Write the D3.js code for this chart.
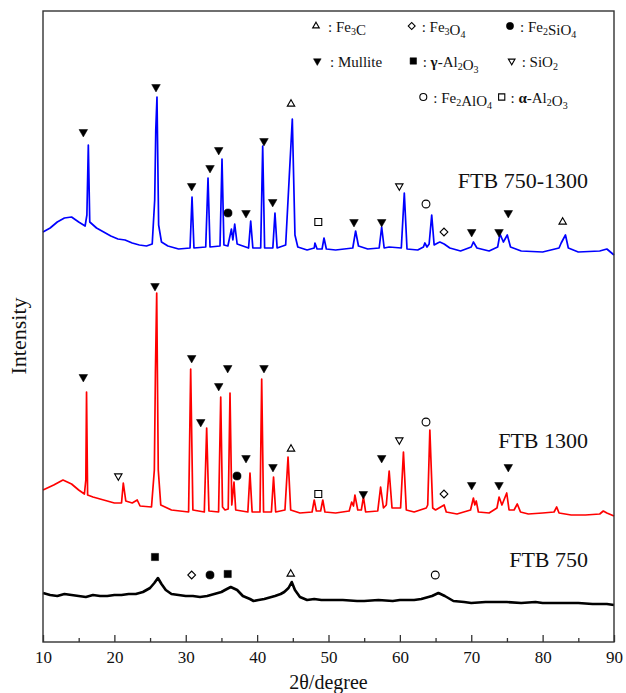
<!DOCTYPE html>
<html><head><meta charset="utf-8">
<script src="https://cdn.jsdelivr.net/npm/d3@7"></script>
<style>
body{margin:0;background:#fff}
svg{display:block}
text{font-family:"Liberation Serif","Times New Roman",serif;fill:#111}
</style>
</head><body>
<svg id="chart" width="626" height="693"></svg>
<script>
// ---------------- DATA ----------------
const xTicks = [10, 20, 30, 40, 50, 60, 70, 80, 90];
const xMinorTicks = [15, 25, 35, 45, 55, 65, 75, 85];
const seriesNames = ["FTB 750", "FTB 1300", "FTB 750-1300"];
const baselineOffsets = [40, 125, 390]; // stacking offset (a.u.)

// [2θ, intensity a.u.]
const ftb750 = [[10,9],[11,7],[12,6],[13,8],[14,7],[15,6],[16,5],[17,7],[18,6],[19,6],[20,7],[21,7],[22,8],[23,8],[24,10],[25,14],[25.6,19],[26.1,24],[26.6,18],[27.2,12],[28,8],[29,7],[30,6],[31,6],[32,5],[33,6],[34,8],[35,10],[35.5,12],[36.3,15],[37.2,12],[38,6],[39,3],[39.5,1],[40.2,2],[41,3],[42,5],[42.5,6],[43.3,8],[43.8,10],[44.4,14],[44.85,20],[45.3,12],[46,5],[47,2],[48,3],[49,2],[50,2],[52,2],[54,1],[55,1],[57,2],[59,1],[60,2],[62,2],[63,3],[64.5,6],[65.4,9],[66.3,6],[67.5,1],[69,0],[70,-1],[72,0],[74,0],[75,0],[77,-1],[79,0],[80,-1],[82,-1],[84,-1],[85,-1],[87,-2],[89,-2],[90,-3]];

const ftb1300 = [[10,27],[11.5,32],[12.8,37],[14,33],[15,27],[15.8,23],[16.0,37],[16.1,125],[16.25,22],[17,20],[18.5,17],[20,14],[21.0,14],[21.25,34],[21.6,16],[22.5,14],[23.2,17],[23.6,11],[25.2,10],[25.6,47],[25.75,144],[25.93,224],[26.15,47],[26.5,12],[28,7],[30.4,5],[30.69,148],[31.0,7],[32.6,5],[32.93,89],[33.25,6],[34.6,5],[34.9,120],[35.15,10],[35.5,7],[35.95,8],[36.2,124],[36.45,12],[36.76,35],[37.0,7],[38.7,5],[39.0,44],[39.3,5],[40.4,5],[40.64,138],[40.9,5],[42.0,5],[42.3,40],[42.6,5],[43.9,7],[44.33,60],[44.7,7],[46,4],[47.7,5],[48.0,17],[48.3,6],[48.9,6],[49.2,17],[49.5,5],[51,4],[52.9,6],[53.25,15],[53.5,11],[53.7,22],[54.1,7],[54.6,7],[54.9,20],[55.2,5],[56.9,6],[57.3,30],[57.7,9],[58.1,12],[58.5,46],[58.9,9],[60.1,9],[60.5,65],[60.9,7],[62,5],[63.7,9],[63.9,12],[64.2,87],[64.6,9],[65.0,7],[66.2,12],[66.5,5],[68,3],[69.9,7],[70.3,19],[70.5,12],[70.7,16],[71.0,5],[72.5,4],[73.6,9],[73.9,20],[74.3,12],[74.97,24],[75.3,7],[76.0,7],[76.45,13],[76.9,5],[78,3],[80,4],[81.6,5],[81.97,10],[82.3,4],[84,2],[86,2],[88,3],[88.5,6],[89,4],[90,1]];

const ftb7501300 = [[10,20],[11,24],[12,30],[13,34],[14,35],[15,30],[15.9,26],[16.15,37],[16.35,107],[16.55,30],[17.5,24],[18.5,20],[19.5,16],[20.5,13],[21.5,12],[22.5,9],[23.5,7],[24.5,6],[25.3,8],[25.65,52],[25.8,122],[25.97,155],[26.2,27],[26.6,10],[27.5,6],[29,3],[30.6,4],[30.88,55],[31.15,4],[32.8,5],[33.12,74],[33.4,5],[34.8,6],[35.08,93],[35.35,7],[35.9,6],[36.4,23],[36.6,12],[36.86,28],[37.2,8],[38.8,4],[39.1,31],[39.4,4],[40.5,4],[40.78,106],[41.05,4],[42.2,4],[42.5,39],[42.8,4],[44.0,7],[44.5,75],[44.93,133],[45.3,17],[45.7,5],[47,2],[48.0,4],[48.1,9],[48.4,3],[49.1,3],[49.37,14],[49.7,3],[51,2],[53.4,4],[53.8,21],[54.2,6],[55.5,3],[57.1,4],[57.45,25],[57.8,4],[58.5,5],[60.2,4],[60.62,59],[61.0,3],[62.5,2],[63.3,5],[63.5,9],[63.8,5],[64.1,8],[64.46,37],[64.8,7],[65.3,9],[65.6,10],[66.2,8],[67.0,4],[68.5,1],[70.0,5],[70.3,10],[70.8,4],[72.5,1],[73.7,5],[74.03,18],[74.5,10],[75.05,17],[75.5,5],[77,1],[80,0],[82.3,4],[82.6,9],[83.2,17],[83.6,4],[85,0],[88,1],[89,3],[90,-3]];

// phase markers: [2θ, intensity a.u., phase]
const markers750 = [[25.69,45,"gAl2O3"],[30.83,27,"Fe3O4"],[33.4,27,"Fe2SiO4"],[35.88,28,"gAl2O3"],[44.71,28,"Fe3C"],[64.96,27,"Fe2AlO4"]];
const markers1300 = [[15.65,140,"Mullite"],[20.55,41,"SiO2"],[25.69,231,"Mullite"],[30.83,159,"Mullite"],[32.1,95,"Mullite"],[34.62,131,"Mullite"],[35.88,149,"Mullite"],[37.18,41,"Fe2SiO4"],[38.44,59,"Mullite"],[40.96,149,"Mullite"],[42.22,50,"Mullite"],[44.75,68,"Fe3C"],[48.57,23,"aAl2O3"],[54.88,23,"Mullite"],[57.45,59,"Mullite"],[59.92,77,"SiO2"],[63.66,95,"Fe2AlO4"],[66.18,23,"Fe3O4"],[70.06,32,"Mullite"],[73.89,32,"Mullite"],[75.19,50,"Mullite"]];
const markers7501300 = [[15.65,120,"Mullite"],[25.83,165,"Mullite"],[30.83,66,"Mullite"],[33.4,84,"Mullite"],[34.62,102,"Mullite"],[35.92,39,"Fe2SiO4"],[38.44,39,"Mullite"],[40.96,111,"Mullite"],[42.18,50,"Mullite"],[44.75,148,"Fe3C"],[48.57,30,"aAl2O3"],[53.57,30,"Mullite"],[57.45,30,"Mullite"],[59.92,66,"SiO2"],[63.66,48,"Fe2AlO4"],[66.18,20,"Fe3O4"],[70.06,20,"Mullite"],[73.89,20,"Mullite"],[75.19,39,"Mullite"],[82.81,30,"Fe3C"]];

const legendPhases = ["Fe3C","Fe3O4","Fe2SiO4","Mullite","gAl2O3","SiO2","Fe2AlO4","aAl2O3"];
const legendLabels = ["Fe3C","Fe3O4","Fe2SiO4","Mullite","γ-Al2O3","SiO2","Fe2AlO4","α-Al2O3"];

// ---------------- DRAWING ----------------
const FONT = '"Liberation Serif","Times New Roman",serif';
const svg = d3.select("#chart");
const W = 626, H = 693;
const m = {l:43, r:12, t:11, b:51};
const x = d3.scaleLinear().domain([10, 90]).range([m.l, W - m.r]);
const y = d3.scaleLinear().domain([0, 631]).range([H - m.b, m.t]);

const colors = ["#000000", "#ff0000", "#0000ff"];
const widths = [2.6, 1.7, 1.7];
const allSeries = [ftb750, ftb1300, ftb7501300];
const allMarkers = [markers750, markers1300, markers7501300];

const line = d3.line().x(d => x(d[0]));
allSeries.forEach((s, i) => {
  const off = baselineOffsets[i];
  svg.append("path")
    .attr("d", line.y(d => y(d[1] + off))(s))
    .attr("fill", "none")
    .attr("stroke", colors[i])
    .attr("stroke-width", widths[i])
    .attr("stroke-linejoin", "round");
});

// marker style per phase
const phaseStyle = {
  Fe3C:    {type: d3.symbolTriangle, rot: 0,   fill: false, size: 24},
  Fe3O4:   {type: d3.symbolSquare,   rot: 45,  fill: false, size: 30},
  Fe2SiO4: {type: d3.symbolCircle,   rot: 0,   fill: true,  size: 52},
  Mullite: {type: d3.symbolTriangle, rot: 180, fill: true,  size: 32},
  gAl2O3:  {type: d3.symbolSquare,   rot: 0,   fill: true,  size: 52},
  SiO2:    {type: d3.symbolTriangle, rot: 180, fill: false, size: 24},
  Fe2AlO4: {type: d3.symbolCircle,   rot: 0,   fill: false, size: 48},
  aAl2O3:  {type: d3.symbolSquare,   rot: 0,   fill: false, size: 48}
};
function drawSymbol(g, phase, cx, cy, scale) {
  const st = phaseStyle[phase];
  g.append("path")
    .attr("d", d3.symbol().type(st.type).size(st.size * (scale || 1))())
    .attr("transform", `translate(${cx},${cy}) rotate(${st.rot})`)
    .attr("fill", st.fill ? "#000" : "#fff")
    .attr("stroke", "#000")
    .attr("stroke-width", st.fill ? 0.5 : 1.1);
}
const mg = svg.append("g");
allMarkers.forEach((ms, i) => {
  ms.forEach(d => drawSymbol(mg, d[2], x(d[0]), y(d[1] + baselineOffsets[i])));
});

// frame
svg.append("rect").attr("x", m.l).attr("y", m.t)
  .attr("width", W - m.r - m.l).attr("height", H - m.b - m.t)
  .attr("fill", "none").attr("stroke", "#333").attr("stroke-width", 1.4);

// x axis with inward ticks
const axisG = svg.append("g").attr("transform", `translate(0,${H - m.b})`);
axisG.call(d3.axisBottom(x).tickValues(xTicks).tickSize(-7).tickFormat(d3.format("d")).tickPadding(9));
axisG.attr("font-family", null);
axisG.select(".domain").remove();
axisG.selectAll(".tick line").attr("stroke", "#333").attr("stroke-width", 1.3);
axisG.selectAll("text").style("font-size", "17px").style("font-family", FONT).attr("fill", "#111");
const minorG = svg.append("g").attr("transform", `translate(0,${H - m.b})`);
minorG.call(d3.axisBottom(x).tickValues(xMinorTicks).tickSize(-4).tickFormat(""));
minorG.select(".domain").remove();
minorG.selectAll(".tick line").attr("stroke", "#333").attr("stroke-width", 1.3);

// axis titles
svg.append("text").attr("x", (m.l + W - m.r) / 2).attr("y", 689)
  .attr("text-anchor", "middle").style("font-family", FONT).style("font-size", "20px").text("2θ/degree");
svg.append("text").attr("transform", "translate(26,336) rotate(-90)")
  .attr("text-anchor", "middle").style("font-family", FONT).style("font-size", "22px").text("Intensity");

// series labels
const labelPos = [[588, 567], [588, 448], [588, 188]];
seriesNames.forEach((n, i) => {
  svg.append("text").attr("x", labelPos[i][0]).attr("y", labelPos[i][1])
    .attr("text-anchor", "end").style("font-family", FONT).style("font-size", "22px").text(n);
});

// legend
const legendPos = [[316,27,328],[411.7,27,421.7],[510,27,520],[317.3,62,330],[413.3,62,422.7],[511.7,62,521.7],[423.3,98,433.3],[501.7,98,510.5]];
const lg = svg.append("g");
legendPhases.forEach((p, i) => {
  const [sx, sy, tx] = legendPos[i];
  drawSymbol(lg, p, sx, sy - 1, 0.8);
  const t = lg.append("text").attr("x", tx).attr("y", sy + 5)
    .style("font-family", FONT).style("font-size", "15px");
  t.append("tspan").text(": ");
  const lab = legendLabels[i];
  const parts = lab.match(/[0-9]+|[^0-9]+/g);
  parts.forEach(part => {
    if (/^[0-9]+$/.test(part)) {
      t.append("tspan").style("font-size", "10px").attr("dy", 3).text(part);
      t.append("tspan").attr("dy", -3).text("");
    } else if (part[0] === "γ" || part[0] === "α") {
      t.append("tspan").attr("font-weight", "bold").text(part[0]);
      t.append("tspan").text(part.slice(1));
    } else {
      t.append("tspan").text(part);
    }
  });
});
</script>
</body></html>
